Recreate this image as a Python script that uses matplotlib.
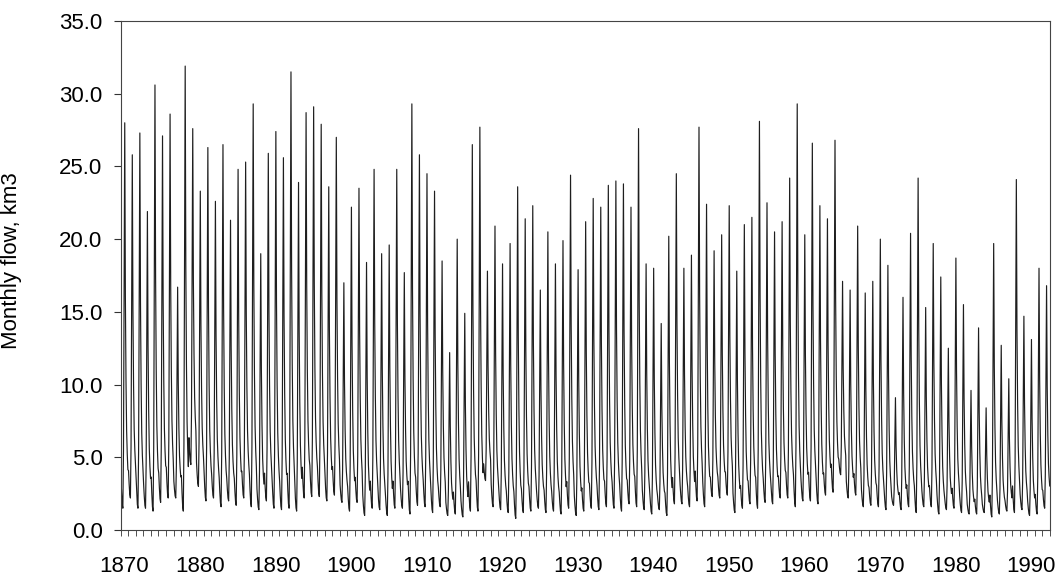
import matplotlib.pyplot as plt
import numpy as np
from matplotlib.ticker import FixedLocator, MultipleLocator

plt.rcParams['font.family'] = ['Liberation Sans', 'DejaVu Sans']

# annual flood peak (km3 / month), 1870..1992
peak = [28.0, 25.8, 27.3, 21.9, 30.6, 27.1, 28.6, 16.7, 31.9, 27.6,
        23.3, 26.3, 22.6, 26.5, 21.3, 24.8, 25.3, 29.3, 19.0, 25.9,
        27.4, 25.6, 31.5, 23.9, 28.7, 29.1, 27.9, 23.6, 27.0, 17.0,
        22.2, 23.5, 18.4, 24.8, 19.0, 19.6, 24.8, 17.7, 29.3, 25.8,
        24.5, 23.3, 18.5, 12.2, 20.0, 14.9, 26.5, 27.7, 17.8, 20.9,
        18.3, 19.7, 23.6, 21.4, 22.3, 16.5, 20.5, 18.3, 19.9, 24.4,
        17.9, 21.2, 22.8, 22.2, 23.7, 24.0, 23.8, 22.2, 27.6, 18.3,
        18.0, 14.2, 20.2, 24.5, 18.0, 18.9, 27.7, 22.4, 19.2, 20.3,
        22.3, 17.8, 21.0, 21.5, 28.1, 22.5, 20.5, 21.2, 24.2, 29.3,
        20.3, 26.6, 22.3, 21.4, 26.8, 17.1, 16.5, 20.9, 16.3, 17.1,
        20.0, 18.2, 9.1, 16.0, 20.4, 24.2, 15.3, 19.7, 17.4, 12.5,
        18.7, 15.5, 9.6, 13.9, 8.4, 19.7, 12.7, 10.4, 24.1, 14.7,
        13.1, 18.0, 16.8]

# annual low-water flow
low = [1.5, 2.2, 1.5, 1.5, 1.3, 1.9, 2.2, 2.2, 1.3, 4.5,
       3.0, 2.0, 2.2, 1.6, 2.0, 1.7, 2.2, 1.6, 1.4, 2.0,
       1.5, 1.4, 1.5, 1.3, 2.2, 2.3, 2.3, 2.0, 2.4, 1.9,
       1.3, 1.9, 1.0, 1.5, 1.4, 1.0, 1.5, 1.5, 1.1, 1.7,
       1.6, 1.2, 1.6, 1.0, 1.1, 0.9, 1.3, 1.3, 3.4, 1.6,
       1.4, 1.2, 0.8, 1.2, 1.3, 1.5, 1.2, 1.3, 1.1, 1.5,
       1.0, 1.3, 1.5, 1.4, 1.6, 1.5, 1.3, 1.8, 1.6, 1.4,
       1.1, 1.4, 1.0, 1.8, 1.8, 1.6, 2.0, 1.6, 2.3, 2.2,
       2.4, 1.2, 1.5, 1.8, 1.5, 1.9, 1.8, 2.2, 2.2, 1.6,
       2.0, 2.0, 1.8, 2.4, 2.6, 3.8, 2.2, 2.4, 1.6, 1.7,
       1.6, 1.4, 1.7, 1.4, 1.6, 1.2, 1.6, 1.6, 1.1, 1.4,
       1.5, 1.2, 1.1, 1.1, 1.2, 0.9, 1.1, 1.3, 1.2, 1.4,
       1.0, 1.1, 1.5]

# typical share of the flood rise in each month, Jan..Dec
season = [0.08, 0.04, 0.01, 0.0, 0.15, 0.55, 1.0, 0.55, 0.33, 0.2, 0.14, 0.1]

start_year = 1870
years = np.arange(start_year, start_year + len(peak))

flow = []
for p, l in zip(peak, low):
    for s in season:
        flow.append(l + (p - l) * s)
flow = np.array(flow)
t = start_year + (np.arange(len(flow)) + 0.5) / 12

fig = plt.figure(figsize=(10.63, 5.78), dpi=100)
ax = fig.add_axes([0.1135, 0.083, 0.8743, 0.8807])
ax.plot(t, flow, color='#1e1e1e', lw=0.85)

ax.set_xlim(start_year, start_year + len(peak))
ax.set_ylim(0, 35)
ax.yaxis.set_major_locator(MultipleLocator(5))
ax.yaxis.set_major_formatter(plt.FuncFormatter(lambda v, _: f'{v:.1f}'))

# yearly tick marks, decade labels centred in the year
ax.xaxis.set_minor_locator(FixedLocator(np.arange(start_year, start_year + len(peak) + 1)))
decades = [y for y in years if y % 10 == 0]
ax.set_xticks([d + 0.5 for d in decades])
ax.set_xticklabels([str(d) for d in decades])
ax.tick_params(axis='x', which='major', length=0, pad=19, labelsize=16)
ax.tick_params(axis='x', which='minor', length=4, direction='out', color='#333333')
ax.tick_params(axis='y', length=5, direction='out', labelsize=16, pad=8, color='#333333')

for s in ax.spines.values():
    s.set_color('#444444')
    s.set_linewidth(0.8)

ax.set_ylabel('Monthly flow, km3', fontsize=16)
ax.yaxis.set_label_coords(-0.106, 0.53)

fig.savefig('out.png', dpi=100)
